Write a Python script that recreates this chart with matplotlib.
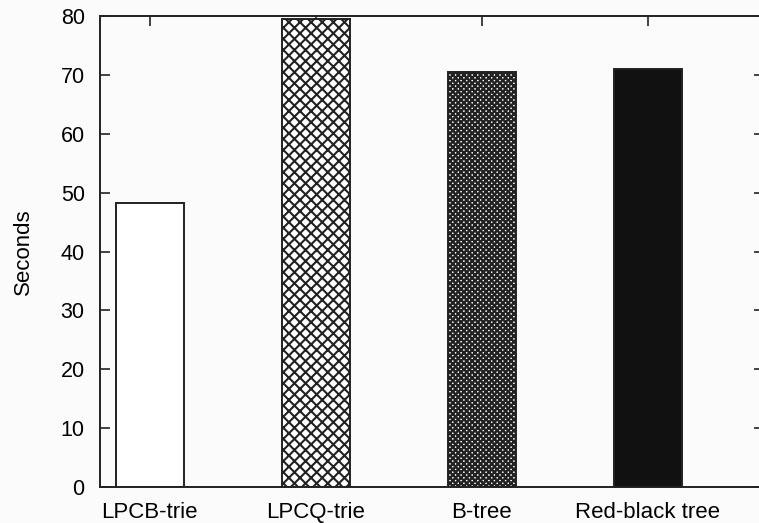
import matplotlib
matplotlib.use("Agg")
import matplotlib.pyplot as plt

# Run time of each structure
structures = ["LPCB-trie", "LPCQ-trie", "B-tree", "Red-black tree"]
seconds = [48.2, 79.5, 70.5, 71.0]
y_ticks = [0, 10, 20, 30, 40, 50, 60, 70, 80]

plt.rcParams["font.family"] = ["Liberation Sans", "DejaVu Sans"]

fig = plt.figure(figsize=(7.59, 5.23), dpi=100, facecolor="#fbfbfb")
# right edge of the frame sits just past the figure border
ax = fig.add_axes([100 / 759, 36 / 523, 664 / 759, 471 / 523])
ax.set_facecolor("#fbfbfb")

x = list(range(1, len(structures) + 1))
styles = [
    dict(facecolor="white", hatch=None, hlw=1.0),
    dict(facecolor="white", hatch="xxx", hlw=1.5),
    dict(facecolor="white", hatch="xxxxxx", hlw=1.7),
    dict(facecolor="#111111", hatch=None, hlw=1.0),
]
for xi, val, st in zip(x, seconds, styles):
    plt.rcParams["hatch.linewidth"] = st["hlw"]
    plt.rcParams["hatch.color"] = "#1e1e1e"
    bars = ax.bar(xi, val, width=0.41, facecolor=st["facecolor"],
                  edgecolor="#222222", linewidth=1.4, hatch=st["hatch"],
                  zorder=3)
    for b in bars:
        try:
            b.set_hatch_linewidth(st["hlw"])
        except AttributeError:
            pass

ax.set_xlim(0.7, 4.7)
ax.set_ylim(0, 80)
ax.set_xticks(x)
ax.set_xticklabels(structures, fontsize=16, va="baseline")
ax.set_yticks(y_ticks)
ax.set_yticklabels([str(v) for v in y_ticks], fontsize=15.5)
ax.tick_params(axis="both", direction="in", length=7, width=1.2,
               color="#222222", top=True, right=True, bottom=True)
ax.tick_params(axis="x", pad=22)
ax.tick_params(axis="y", pad=11)
for sp in ax.spines.values():
    sp.set_linewidth(1.4)
    sp.set_color("#222222")
    sp.set_zorder(4)

ax.set_ylabel("Seconds", fontsize=16)
ax.yaxis.set_label_coords(-0.1, 0.5)

fig.savefig("out.png", dpi=100, facecolor=fig.get_facecolor())
